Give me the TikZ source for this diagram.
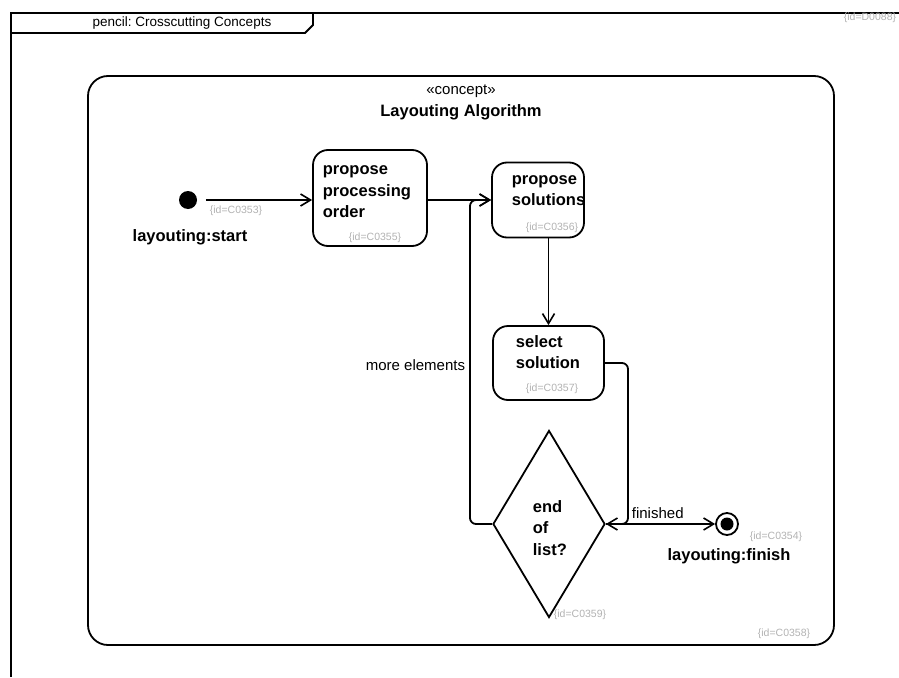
\documentclass[tikz,border=0pt]{standalone}
\usepackage{fontspec}
\setmainfont{Liberation Sans}
\usetikzlibrary{arrows.meta,shapes.geometric}
\frenchspacing

\begin{document}
\begin{tikzpicture}[x=1pt,y=-1pt,line width=1.8pt,
  flow/.style={-{Straight Barb[length=10pt,width=12pt,line width=1.6pt]},rounded corners=6pt},
  actbox/.style={draw,rectangle,rounded corners=15pt,inner sep=0pt},
  acttext/.style={anchor=west,align=left,inner sep=0pt,font=\fontsize{16.5}{21.5}\selectfont\bfseries},
  idtag/.style={inner sep=0pt,text=black!30,font=\fontsize{10.5}{12}\selectfont},
  edgelabel/.style={inner sep=0pt,font=\fontsize{15}{18}\selectfont},
  boldlabel/.style={inner sep=0pt,font=\fontsize{16.5}{20}\selectfont\bfseries}]
\useasboundingbox (0,0) rectangle (899,677);

% package frame with its name tab
\draw (11,677) -- (11,13) -- (899,13);
\draw (11,33) -- (305,33) -- (313,25) -- (313,13);
\node[inner sep=0pt,font=\fontsize{13.5}{15}\selectfont] (frametitle) at (182,23) {pencil: Crosscutting Concepts};
\node[idtag,anchor=east] (frameid) at (897,18) {\{id=D0088\}};

% concept container
\node[draw,rectangle,rounded corners=20pt,minimum width=746pt,minimum height=569pt,inner sep=0pt] (concept) at (461,360.5) {};
\node[edgelabel] (stereo) at (461,91) {«concept»};
\node[boldlabel] (ctitle) at (461,112) {Layouting Algorithm};
\node[idtag] (conceptid) at (784,634) {\{id=C0358\}};

% initial node
\node[circle,fill,minimum size=18pt,inner sep=0pt] (start) at (188,200) {};
\node[idtag] (startid) at (236,211) {\{id=C0353\}};
\node[boldlabel] (startlbl) at (190,237) {layouting:start};

% actions
\node[actbox,minimum width=114pt,minimum height=96pt] (order) at (370,198) {};
\node[acttext] (ordertxt) at (322,192) {\strut propose\\processing\\order\strut};
\node[idtag] (orderid) at (375,238) {\{id=C0355\}};

\node[actbox,minimum width=92pt,minimum height=75pt] (solve) at (538,200) {};
\node[acttext] (solvetxt) at (511,190.5) {\strut propose\\solutions\strut};
\node[idtag] (solveid) at (552,228) {\{id=C0356\}};

\node[actbox,minimum width=111pt,minimum height=74pt] (pick) at (548.5,363) {};
\node[acttext] (picktxt) at (515,353.5) {\strut select\\solution\strut};
\node[idtag] (pickid) at (552,389) {\{id=C0357\}};

% decision
\node[draw,diamond,minimum width=112pt,minimum height=187pt,inner sep=0pt] (dec) at (549,524) {};
\node[acttext] (dectxt) at (532,529.5) {\strut end\\of\\list?\strut};
\node[idtag] (decid) at (580,615) {\{id=C0359\}};

% final node
\node[circle,draw,minimum size=22pt,inner sep=0pt,
  path picture={\fill (path picture bounding box.center) circle (6.5pt);}] (fin) at (727,524) {};
\node[idtag] (finid) at (776,537) {\{id=C0354\}};
\node[boldlabel] (finlbl) at (729,556) {layouting:finish};

% control flows
\coordinate (loopx) at (470,0);
\coordinate (backx) at (628,0);
\draw[flow,shorten <=8pt] (start) -- (start -| order.west);
\draw[flow] (order.east |- solve.west) -- (solve.west);
\draw[flow] (pick.north |- solve.south) -- (pick.north);
\draw[flow] (pick.east) -- (pick.east -| backx) -- (backx |- dec.east) -- (dec.east);
\draw[flow] (dec.east) -- (fin.west);
\draw[flow] (dec.west) -- (dec.west -| loopx) -- (loopx |- solve.west) -- (solve.west);
\node[edgelabel,anchor=east] (morelbl) at (466,365) {more elements};
\node[edgelabel,anchor=south west] (finishlbl) at (631,520) {finished};
\end{tikzpicture}
\end{document}
